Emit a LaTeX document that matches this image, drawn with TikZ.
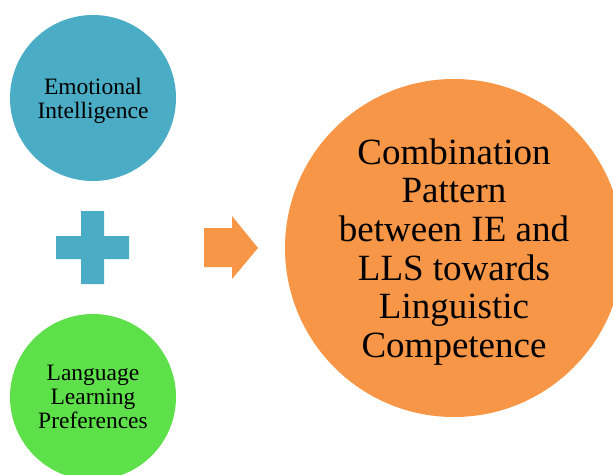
\documentclass[tikz,border=0pt]{standalone}
\usepackage{fontspec}
\setmainfont{Liberation Serif}
\definecolor{teal1}{HTML}{4BACC6}
\definecolor{green1}{HTML}{5EE04A}
\definecolor{orange1}{HTML}{F79646}
\begin{document}
\begin{tikzpicture}[x=1pt,y=-1pt,
  bubble/.style={circle, inner sep=0pt, align=center, text=black},
  smallbubble/.style={bubble, minimum size=166pt, font=\fontsize{23.5}{24}\selectfont},
  smalltext/.style={align=center, inner sep=0pt, text=black, font=\fontsize{23.5}{24}\selectfont},
  bigbubble/.style={bubble, minimum size=338pt},
  bigtext/.style={align=center, inner sep=0pt, text=black, font=\fontsize{37}{38.7}\selectfont}]
\useasboundingbox (0,0) rectangle (613,474);
\clip (0,0) rectangle (613,474);
\node[smallbubble, fill=teal1,
  label={[smalltext, yshift=-3pt]center:Emotional\\Intelligence}] (ei) at (93,98) {};
\node[smallbubble, fill=green1] (llp) at (93,397) {Language\\Learning\\Preferences};
\node[bigbubble, fill=orange1,
  label={[bigtext, yshift=-4pt]center:Combination\\Pattern\\between IE and\\LLS towards\\Linguistic\\Competence}] (res) at (454,248) {};
\coordinate (plusc) at (92.5,247.5);
\fill[teal1] (plusc) ++(-11.5,-36.5) -- ++(23,0) -- ++(0,25) -- ++(25,0) -- ++(0,23) -- ++(-25,0) -- ++(0,25) -- ++(-23,0) -- ++(0,-25) -- ++(-25,0) -- ++(0,-23) -- ++(25,0) -- cycle;
\coordinate (arrowc) at (204,228);
\fill[orange1] (arrowc) -- ++(28,0) -- ++(0,-12) -- ++(26,32) -- ++(-26,31) -- ++(0,-12) -- ++(-28,0) -- cycle;
\end{tikzpicture}
\end{document}
